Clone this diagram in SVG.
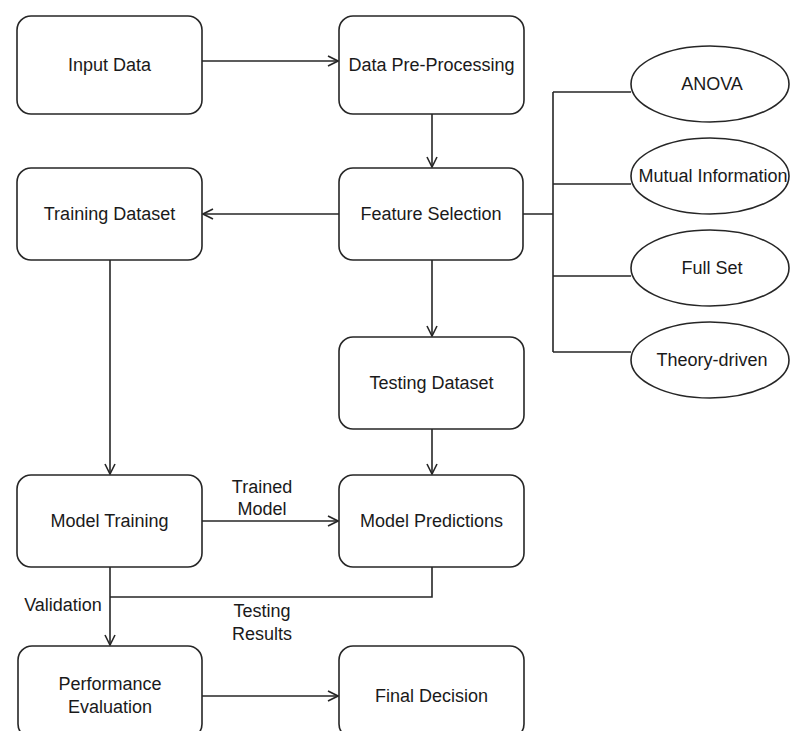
<svg xmlns="http://www.w3.org/2000/svg" width="790" height="731" viewBox="0 0 790 731">
<defs>
<style>
.box{fill:#fff;stroke:#262626;stroke-width:1.6}
.t{font-family:"Liberation Sans",Arial,sans-serif;font-size:18px;fill:#1a1a1a;text-anchor:middle;dominant-baseline:central}
.c{fill:none;stroke:#262626;stroke-width:1.6}
</style>
<marker id="arr" viewBox="0 0 12 12" refX="11" refY="6" markerWidth="12" markerHeight="12" markerUnits="userSpaceOnUse" orient="auto">
<path d="M1,1 L11,6 L1,11" fill="none" stroke="#262626" stroke-width="1.6"/>
</marker>
</defs>
<rect width="790" height="731" fill="#fff"/>
<g id="connectors">
<path class="c" d="M202,61 H338" marker-end="url(#arr)"/>
<path class="c" d="M432,114 V167" marker-end="url(#arr)"/>
<path class="c" d="M339,214 H203" marker-end="url(#arr)"/>
<path class="c" d="M523,214 H553 M553,92 V352 M553,92 H631 M553,184 H631 M553,276 H631 M553,352 H631"/>
<path class="c" d="M432,260 V336" marker-end="url(#arr)"/>
<path class="c" d="M110,260 V474" marker-end="url(#arr)"/>
<path class="c" d="M432,429 V474" marker-end="url(#arr)"/>
<path class="c" d="M202,521 H338" marker-end="url(#arr)"/>
<path class="c" d="M432,567 V597 H110"/>
<path class="c" d="M110,567 V645" marker-end="url(#arr)"/>
<path class="c" d="M202,696 H338" marker-end="url(#arr)"/>
<text class="t" x="262" y="487">Trained</text>
<text class="t" x="262" y="509">Model</text>
<text class="t" x="63" y="605">Validation</text>
<text class="t" x="262" y="611">Testing</text>
<text class="t" x="262" y="634">Results</text>
</g>
<g id="input-data"><rect class="box" x="17" y="16" width="185" height="98" rx="14"/><text class="t" x="109.5" y="65">Input Data</text></g>
<g id="data-preprocessing"><rect class="box" x="339" y="16" width="185" height="98" rx="14"/><text class="t" x="431.5" y="65">Data Pre-Processing</text></g>
<g id="feature-selection"><rect class="box" x="339" y="168" width="184" height="92" rx="14"/><text class="t" x="431" y="214">Feature Selection</text></g>
<g id="training-dataset"><rect class="box" x="17" y="168" width="185" height="92" rx="14"/><text class="t" x="109.5" y="214">Training Dataset</text></g>
<g id="testing-dataset"><rect class="box" x="339" y="337" width="185" height="92" rx="14"/><text class="t" x="431.5" y="383">Testing Dataset</text></g>
<g id="model-training"><rect class="box" x="17" y="475" width="185" height="92" rx="14"/><text class="t" x="109.5" y="521">Model Training</text></g>
<g id="model-predictions"><rect class="box" x="339" y="475" width="185" height="92" rx="14"/><text class="t" x="431.5" y="521">Model Predictions</text></g>
<g id="performance-evaluation"><rect class="box" x="18" y="646" width="184" height="92" rx="14"/><text class="t" x="110" y="684">Performance</text><text class="t" x="110" y="707">Evaluation</text></g>
<g id="final-decision"><rect class="box" x="339" y="646" width="185" height="92" rx="14"/><text class="t" x="431.5" y="696">Final Decision</text></g>
<g id="anova"><ellipse class="box" cx="710" cy="84" rx="79" ry="38"/><text class="t" x="712" y="84">ANOVA</text></g>
<g id="mutual-information"><ellipse class="box" cx="710" cy="176" rx="79" ry="38"/><text class="t" x="713" y="176">Mutual Information</text></g>
<g id="full-set"><ellipse class="box" cx="710" cy="268" rx="79" ry="38"/><text class="t" x="712" y="268">Full Set</text></g>
<g id="theory-driven"><ellipse class="box" cx="710" cy="360" rx="79" ry="38"/><text class="t" x="712" y="360">Theory-driven</text></g>
</svg>
